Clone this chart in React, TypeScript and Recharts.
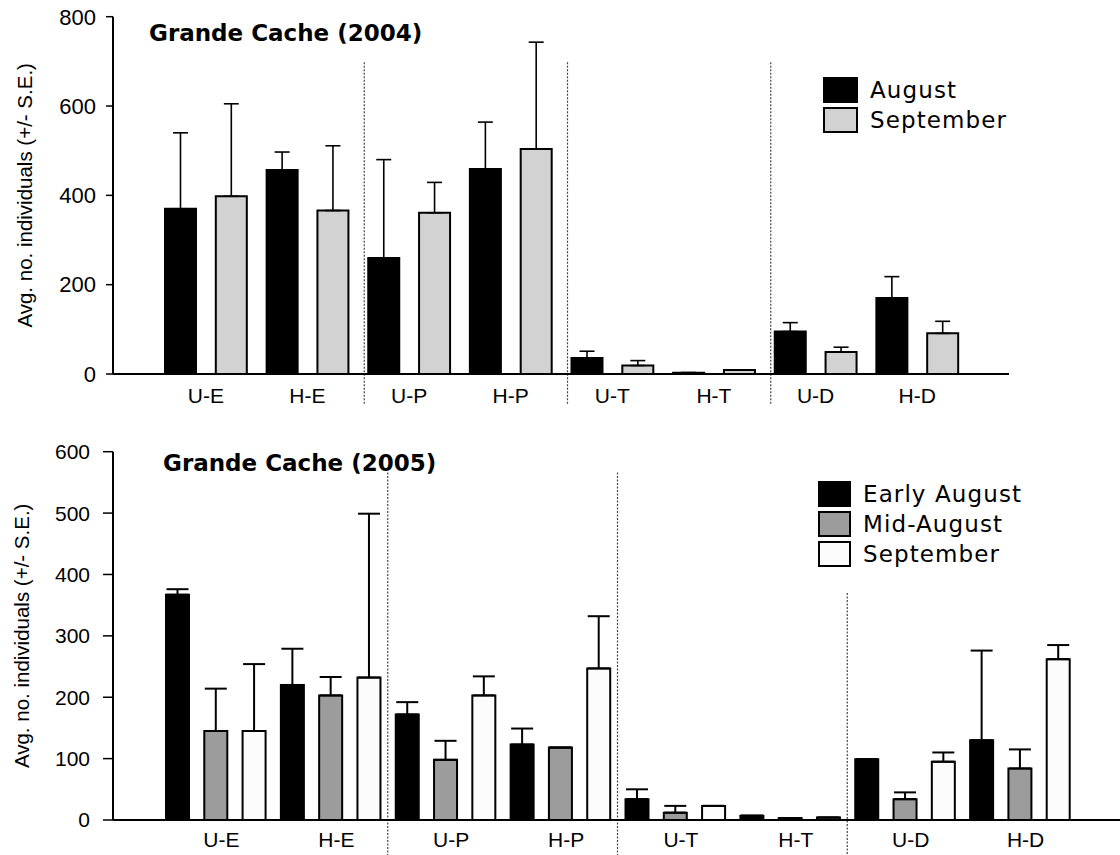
import React from 'react';
import { BarChart, Bar, XAxis, YAxis, ErrorBar, Cell, ReferenceLine } from 'recharts';

const sites = ['U-E', 'H-E', 'U-P', 'H-P', 'U-T', 'H-T', 'U-D', 'H-D'];

// Grande Cache 2004
const months2004 = ['August', 'September'];
const aug2004 = [370, 457, 260, 459, 36, 3, 95, 170];
const augSE2004 = [170, 40, 220, 105, 15, 0, 20, 48];
const sep2004 = [398, 366, 361, 504, 19, 9, 49, 91];
const sepSE2004 = [207, 145, 68, 239, 11, 0, 11, 27];
const ticks2004 = [0, 200, 400, 600, 800];

// Grande Cache 2005
const months2005 = ['Early August', 'Mid-August', 'September'];
const early2005 = [367, 220, 172, 123, 34, 7, 99, 130];
const earlySE2005 = [9, 59, 20, 26, 16, 0, 0, 146];
const mid2005 = [145, 203, 98, 118, 12, 3, 34, 84];
const midSE2005 = [69, 30, 31, 0, 11, 0, 11, 31];
const sept2005 = [145, 232, 203, 247, 23, 4, 95, 262];
const septSE2005 = [109, 267, 31, 85, 0, 0, 15, 23];
const ticks2005 = [0, 100, 200, 300, 400, 500, 600];

const yLabel = 'Avg. no. individuals (+/- S.E.)';

// one row per bar slot, grouped by site
const buildRows = (series: number[][], errors: number[][]) =>
  sites.flatMap((site, i) =>
    series.map((vals, s) => ({
      slot: `${site}-${s}`,
      site,
      series: s,
      value: vals[i],
      err: [0, errors[s][i]],
    }))
  );

const rows2004 = buildRows([aug2004, sep2004], [augSE2004, sepSE2004]);
const rows2005 = buildRows([early2005, mid2005, sept2005], [earlySE2005, midSE2005, septSE2005]);

const fills2004 = ['#000000', '#d2d2d2'];
const fills2005 = ['#000000', '#9c9c9c', '#fcfcfc'];

const tickFont = { fontFamily: '"Liberation Sans", Arial, sans-serif', fill: '#000' };
const titleFont = '"DejaVu Sans", sans-serif';

// dotted separators sit on the boundary before a site group
const dividerShape = (dx: number) => (p: any) => (
  <line
    x1={p.x1 + dx}
    x2={p.x2 + dx}
    y1={p.y1}
    y2={p.y2}
    stroke="#444"
    strokeWidth={1.2}
    strokeDasharray="2 1.5"
  />
);

type LegendProps = { names: string[]; fills: string[]; left: number; top: number; swatchW: number; gap: number };

const SeriesLegend = ({ names, fills, left, top, swatchW, gap }: LegendProps) => (
  <div style={{ position: 'absolute', left, top, fontFamily: titleFont, fontSize: 23, letterSpacing: 1.1 }}>
    {names.map((n, i) => (
      <div key={n} style={{ display: 'flex', alignItems: 'center', height: 26, marginBottom: gap }}>
        <div
          style={{
            width: swatchW,
            height: 26,
            boxSizing: 'border-box',
            border: '2px solid #000',
            background: fills[i],
          }}
        />
        <span style={{ marginLeft: 12, lineHeight: '26px' }}>{n}</span>
      </div>
    ))}
  </div>
);

const Title = ({ text, left, top }: { text: string; left: number; top: number }) => (
  <div
    style={{
      position: 'absolute',
      left,
      top,
      fontFamily: titleFont,
      fontWeight: 700,
      fontSize: 23,
      lineHeight: '23px',
      whiteSpace: 'nowrap',
    }}
  >
    {text}
  </div>
);

const Chart2004 = () => {
  const W = 1009;
  const yW = 113;
  const pad = { left: 42, right: 41 };
  const band = (W - yW - pad.left - pad.right) / rows2004.length;
  return (
    <BarChart
      width={W}
      height={410}
      data={rows2004}
      margin={{ top: 16.7, right: 0, bottom: 0, left: 0 }}
      barSize={31}
    >
      <XAxis xAxisId="slot" dataKey="slot" hide height={0} padding={pad} />
      <XAxis
        xAxisId="site"
        dataKey="site"
        allowDuplicatedCategory={false}
        interval={0}
        padding={pad}
        height={36}
        axisLine={{ stroke: '#000', strokeWidth: 2 }}
        tickLine={false}
        tickSize={6}
        tickMargin={8}
        tick={{ ...tickFont, fontSize: 21 }}
      />
      <YAxis
        width={yW}
        domain={[0, 800]}
        ticks={ticks2004}
        interval={0}
        axisLine={{ stroke: '#000', strokeWidth: 2 }}
        tickLine={{ stroke: '#000', strokeWidth: 1.5 }}
        tickSize={7}
        tickMargin={10}
        tick={{ ...tickFont, fontSize: 22 }}
        label={{
          value: yLabel,
          angle: -90,
          position: 'insideLeft',
          offset: 25,
          style: { textAnchor: 'middle', fontFamily: tickFont.fontFamily, fontSize: 20.5, fill: '#000' },
        }}
      />
      <Bar xAxisId="slot" dataKey="value" isAnimationActive={false}>
        {rows2004.map((r) => (
          <Cell key={r.slot} fill={fills2004[r.series]} stroke="#000" strokeWidth={2} />
        ))}
        <ErrorBar dataKey="err" width={7.5} stroke="#000" strokeWidth={1.6} direction="y" />
      </Bar>
      {['U-P-0', 'U-T-0', 'U-D-0'].map((x) => (
        <ReferenceLine
          key={x}
          xAxisId="slot"
          segment={[
            { x, y: 698 },
            { x, y: -68 },
          ]}
          ifOverflow="visible"
          shape={dividerShape(-band / 2 + 6)}
        />
      ))}
    </BarChart>
  );
};

const Chart2005 = () => {
  const W = 1120;
  const yW = 113;
  const pad = { left: 45, right: 43 };
  const band = (W - yW - pad.left - pad.right) / rows2005.length;
  const dividers = [
    { x: 'U-P-0', top: 566 },
    { x: 'U-T-0', top: 566 },
    { x: 'U-D-0', top: 370 },
  ];
  return (
    <BarChart
      width={W}
      height={435}
      data={rows2005}
      margin={{ top: 31.7, right: 0, bottom: 0, left: 0 }}
      barSize={23}
    >
      <XAxis xAxisId="slot" dataKey="slot" hide height={0} padding={pad} />
      <XAxis
        xAxisId="site"
        dataKey="site"
        allowDuplicatedCategory={false}
        interval={0}
        padding={pad}
        height={35}
        axisLine={{ stroke: '#000', strokeWidth: 2 }}
        tickLine={false}
        tickSize={6}
        tickMargin={6}
        tick={{ ...tickFont, fontSize: 21, dx: 6 }}
      />
      <YAxis
        width={yW}
        domain={[0, 600]}
        ticks={ticks2005}
        interval={0}
        axisLine={{ stroke: '#000', strokeWidth: 2 }}
        tickLine={{ stroke: '#000', strokeWidth: 1.5 }}
        tickSize={10}
        tickMargin={13}
        tick={{ ...tickFont, fontSize: 21 }}
        label={{
          value: yLabel,
          angle: -90,
          position: 'insideLeft',
          offset: 22,
          style: { textAnchor: 'middle', fontFamily: tickFont.fontFamily, fontSize: 20.5, fill: '#000' },
        }}
      />
      <Bar xAxisId="slot" dataKey="value" isAnimationActive={false}>
        {rows2005.map((r) => (
          <Cell key={r.slot} fill={fills2005[r.series]} stroke="#000" strokeWidth={2} />
        ))}
        <ErrorBar dataKey="err" width={11} stroke="#000" strokeWidth={2} direction="y" />
      </Bar>
      {dividers.map((d) => (
        <ReferenceLine
          key={d.x}
          xAxisId="slot"
          segment={[
            { x: d.x, y: d.top },
            { x: d.x, y: -57 },
          ]}
          ifOverflow="visible"
          shape={dividerShape(-band / 2)}
        />
      ))}
    </BarChart>
  );
};

export default function App() {
  return (
    <div style={{ position: 'absolute', left: 0, top: 0, width: 1120, height: 855, background: '#fff', overflow: 'hidden' }}>
      <div style={{ position: 'absolute', left: 0, top: 0 }}>
        <Chart2004 />
      </div>
      <div style={{ position: 'absolute', left: 0, top: 420 }}>
        <Chart2005 />
      </div>
      <Title text="Grande Cache (2004)" left={149} top={22} />
      <Title text="Grande Cache (2005)" left={163} top={452} />
      <SeriesLegend names={months2004} fills={fills2004} left={823} top={77} swatchW={35} gap={3.5} />
      <SeriesLegend names={months2005} fills={fills2005} left={818} top={481} swatchW={33} gap={4} />
    </div>
  );
}
